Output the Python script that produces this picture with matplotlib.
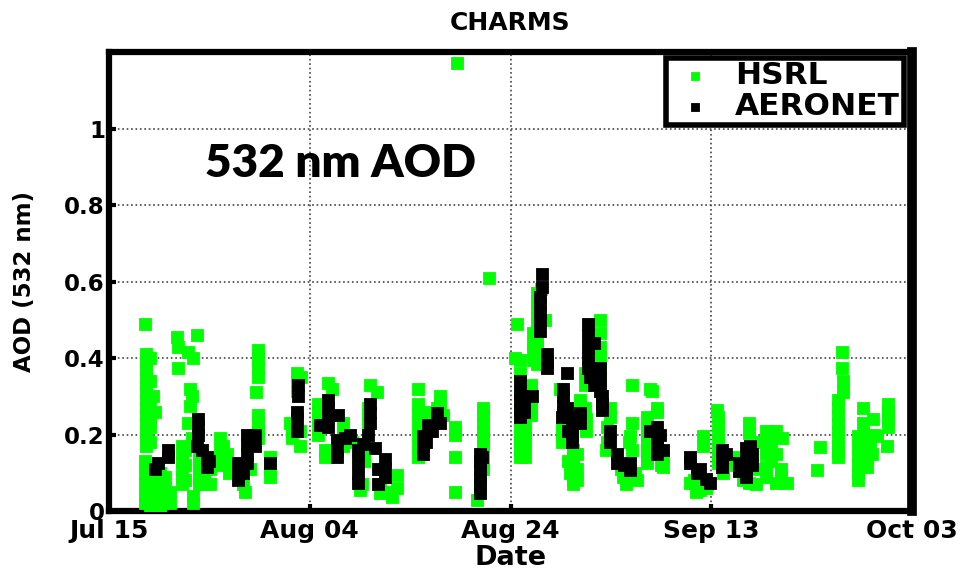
import matplotlib
matplotlib.use("Agg")
import matplotlib.pyplot as plt

# AOD retrievals at 532 nm, x = days since Jul 15
hsrl_points = [
    # Jul 18 - Jul 21
    (3.6, 0.49),
    (3.7, 0.41), (3.7, 0.39), (3.7, 0.37), (3.7, 0.35), (3.7, 0.33), (3.7, 0.31), (3.7, 0.29),
    (3.7, 0.27), (3.7, 0.25), (3.7, 0.23), (3.7, 0.21), (3.7, 0.19), (3.7, 0.17),
    (4.1, 0.40), (4.1, 0.34), (4.4, 0.30), (4.1, 0.28), (4.6, 0.26), (4.1, 0.24), (4.1, 0.22), (4.1, 0.18),
    (3.6, 0.13), (3.6, 0.10), (3.6, 0.07), (3.6, 0.04), (3.6, 0.02),
    (4.1, 0.12), (4.1, 0.09), (4.1, 0.06), (4.1, 0.03), (4.1, 0.01),
    (4.6, 0.08), (4.6, 0.05), (4.6, 0.02),
    (5.1, 0.10), (5.1, 0.07), (5.1, 0.04), (5.1, 0.01),
    (5.6, 0.09), (5.6, 0.06), (5.6, 0.03), (6.1, 0.05), (6.1, 0.02),
    # Jul 21 - Jul 27
    (6.8, 0.455), (6.9, 0.43), (8.8, 0.46), (7.9, 0.415), (8.4, 0.40), (6.9, 0.375),
    (8.1, 0.32), (8.3, 0.30), (8.1, 0.275), (7.9, 0.23), (8.3, 0.19),
    (7.3, 0.17), (7.3, 0.15), (7.3, 0.13), (7.3, 0.11), (7.3, 0.09), (7.3, 0.07),
    (7.6, 0.16), (7.6, 0.12), (7.6, 0.08), (8.4, 0.04), (8.4, 0.02),
    (9.0, 0.15), (9.0, 0.12), (9.0, 0.09), (9.0, 0.07), (9.5, 0.10), (9.5, 0.07),
    (10.1, 0.11), (10.1, 0.07), (11.1, 0.19), (11.1, 0.16), (11.1, 0.14), (11.1, 0.12),
    (11.4, 0.17), (11.8, 0.15), (11.9, 0.125), (12.0, 0.10),
    # Jul 27 - Aug 03
    (14.8, 0.42), (14.8, 0.40), (14.8, 0.375), (14.8, 0.35), (14.6, 0.31),
    (14.8, 0.25), (14.8, 0.23), (14.8, 0.21), (14.8, 0.19),
    (13.0, 0.09), (14.0, 0.11), (13.3, 0.07), (13.5, 0.05),
    (16.0, 0.14), (16.0, 0.11), (16.0, 0.09),
    (18.7, 0.36), (18.7, 0.34), (18.7, 0.315), (18.0, 0.23), (18.2, 0.21), (18.2, 0.19),
    (19.0, 0.21), (19.0, 0.17), (19.1, 0.35),
    # Aug 04 - Aug 13
    (21.8, 0.335), (22.2, 0.32),
    (20.8, 0.28), (20.8, 0.26), (20.8, 0.24), (20.8, 0.22), (20.8, 0.20),
    (21.5, 0.16), (21.5, 0.14), (23.3, 0.23), (23.3, 0.20), (23.3, 0.17),
    (24.2, 0.18), (25.4, 0.15), (25.4, 0.13), (25.0, 0.055), (25.2, 0.07),
    (26.0, 0.33), (26.7, 0.31), (25.8, 0.27), (25.8, 0.25), (25.8, 0.23),
    (27.0, 0.047), (27.0, 0.07), (27.5, 0.05), (28.2, 0.037), (28.7, 0.095), (28.7, 0.06),
    # Aug 14 - Aug 22
    (30.8, 0.32), (30.8, 0.28), (30.8, 0.255), (30.8, 0.23), (30.8, 0.20), (30.8, 0.17), (30.8, 0.14),
    (33.0, 0.30), (33.0, 0.28), (32.7, 0.27), (31.8, 0.26), (33.3, 0.25), (32.0, 0.21), (31.3, 0.17),
    (34.5, 0.22), (34.5, 0.20), (34.5, 0.14), (34.5, 0.05), (34.7, 1.17),
    (37.3, 0.27), (37.3, 0.25), (37.3, 0.23), (37.3, 0.21), (37.3, 0.19), (37.3, 0.17),
    (37.3, 0.15), (37.3, 0.13), (37.3, 0.11), (36.7, 0.03), (37.0, 0.055), (37.9, 0.61),
    # Aug 24 - Aug 28
    (40.6, 0.49), (40.4, 0.40), (40.9, 0.395),
    (40.9, 0.36), (40.9, 0.34), (40.9, 0.32), (40.9, 0.30), (40.9, 0.28), (40.9, 0.26),
    (40.9, 0.24), (40.9, 0.22), (40.9, 0.20), (40.9, 0.18), (40.9, 0.16), (40.9, 0.14),
    (41.4, 0.27), (41.4, 0.25), (41.4, 0.23), (41.4, 0.21), (41.4, 0.19), (41.4, 0.17), (41.4, 0.14),
    (42.0, 0.33), (42.0, 0.31), (42.0, 0.29), (42.0, 0.27), (42.0, 0.25),
    (42.2, 0.465), (42.2, 0.44), (42.2, 0.42), (42.2, 0.395),
    (42.6, 0.57), (42.6, 0.55), (42.6, 0.53), (42.6, 0.51), (42.6, 0.49), (42.6, 0.47),
    (42.6, 0.45), (42.6, 0.43), (42.6, 0.41), (42.6, 0.385), (43.4, 0.50), (43.0, 0.58),
    # Aug 29 - Sep 03
    (45.1, 0.22), (45.1, 0.20), (45.1, 0.18), (44.9, 0.32),
    (46.2, 0.16), (46.2, 0.14), (46.2, 0.12), (46.2, 0.10), (46.2, 0.08), (46.2, 0.07),
    (45.7, 0.13), (45.9, 0.10), (46.6, 0.15), (46.6, 0.11), (46.6, 0.08),
    (46.9, 0.29), (47.4, 0.27), (47.5, 0.24), (47.5, 0.21),
    (48.9, 0.50), (48.9, 0.465), (48.9, 0.43), (48.9, 0.40), (48.9, 0.37), (48.9, 0.34),
    (47.4, 0.36), (47.4, 0.33),
    (49.9, 0.27), (49.9, 0.245), (49.6, 0.22), (49.6, 0.18), (49.5, 0.16),
    # Sep 04 - Sep 10
    (52.1, 0.33), (53.9, 0.32), (52.1, 0.23), (51.9, 0.195), (51.8, 0.18), (52.1, 0.16),
    (51.2, 0.09), (52.6, 0.08), (51.0, 0.11), (51.5, 0.07), (51.6, 0.10), (52.4, 0.10),
    (54.6, 0.27), (54.1, 0.315), (54.6, 0.26),
    (53.6, 0.245), (53.6, 0.22), (53.6, 0.20), (53.6, 0.18), (53.6, 0.16), (53.6, 0.14), (53.6, 0.125),
    (55.2, 0.14), (55.2, 0.115), (55.0, 0.12),
    # Sep 12 - Sep 22
    (58.9, 0.055), (57.9, 0.073), (58.5, 0.05), (58.3, 0.08), (59.2, 0.195), (59.2, 0.17),
    (59.5, 0.06), (59.6, 0.07),
    (60.6, 0.265), (60.7, 0.245), (60.7, 0.225), (60.7, 0.205), (60.7, 0.185), (60.7, 0.165),
    (60.7, 0.145), (60.7, 0.125), (61.2, 0.10), (61.4, 0.13),
    (63.8, 0.23), (63.8, 0.205), (65.5, 0.21), (66.5, 0.21), (67.1, 0.19), (66.0, 0.20), (65.0, 0.18),
    (66.0, 0.17), (66.5, 0.15), (65.5, 0.15), (66.0, 0.13), (65.5, 0.115), (67.0, 0.11), (64.6, 0.11),
    (62.2, 0.14), (62.5, 0.12), (63.2, 0.08), (63.8, 0.073), (64.5, 0.07), (65.5, 0.09),
    (66.5, 0.073), (67.0, 0.09), (67.5, 0.073),
    # Sep 23 - Oct 02
    (70.8, 0.167), (70.5, 0.107),
    (73.0, 0.415), (73.0, 0.375), (73.1, 0.34), (73.1, 0.31),
    (72.6, 0.29), (72.6, 0.27), (72.6, 0.25), (72.6, 0.23), (72.6, 0.21), (72.6, 0.19),
    (72.6, 0.17), (72.6, 0.155), (72.6, 0.14),
    (75.1, 0.27), (75.1, 0.23), (76.1, 0.24), (75.2, 0.20), (76.2, 0.20), (76.5, 0.195),
    (74.6, 0.195), (74.6, 0.17), (74.6, 0.145), (74.6, 0.12), (74.6, 0.10), (74.6, 0.08),
    (75.5, 0.167), (75.5, 0.14), (75.5, 0.115), (75.8, 0.18), (76.0, 0.15),
    (77.6, 0.28), (77.6, 0.26), (77.6, 0.24), (77.6, 0.22), (77.5, 0.17),
]

aeronet_points = [
    (4.9, 0.125), (4.6, 0.11), (5.9, 0.16), (5.9, 0.14),
    (8.9, 0.24), (8.9, 0.22), (8.9, 0.20), (8.8, 0.17), (9.3, 0.16), (9.8, 0.14), (10.0, 0.13), (9.8, 0.115),
    (12.8, 0.125), (12.8, 0.10), (12.8, 0.08), (13.3, 0.10),
    (13.7, 0.20), (13.7, 0.175), (13.7, 0.15), (13.7, 0.125), (14.5, 0.20), (14.5, 0.17), (16.0, 0.125),
    (18.8, 0.33), (18.8, 0.30), (18.7, 0.26), (18.7, 0.24), (18.7, 0.21),
    (21.8, 0.29), (21.8, 0.27), (21.8, 0.25), (21.8, 0.22), (21.0, 0.225), (22.8, 0.25),
    (22.7, 0.185), (22.7, 0.16), (22.7, 0.14), (23.5, 0.19), (24.0, 0.20), (25.3, 0.175),
    (24.8, 0.16), (24.8, 0.13), (24.8, 0.10), (24.8, 0.073),
    (26.0, 0.28), (26.0, 0.255), (26.0, 0.23), (25.8, 0.20), (26.5, 0.165),
    (27.5, 0.135), (27.5, 0.11), (27.5, 0.09), (26.8, 0.11), (26.8, 0.07),
    (31.3, 0.195), (31.3, 0.17), (31.3, 0.15), (31.6, 0.18), (31.8, 0.225), (32.2, 0.21),
    (32.7, 0.255), (33.0, 0.23),
    (37.0, 0.15), (37.2, 0.14), (37.0, 0.13), (37.0, 0.11), (37.0, 0.09), (37.0, 0.07), (37.0, 0.047),
    (40.9, 0.34), (40.9, 0.31), (40.9, 0.29), (40.9, 0.265), (40.9, 0.245), (41.3, 0.28), (41.3, 0.26),
    (42.1, 0.30), (43.1, 0.62), (43.1, 0.585), (42.9, 0.56), (42.9, 0.54), (42.9, 0.52),
    (42.9, 0.50), (42.9, 0.47), (43.6, 0.41), (43.6, 0.39), (43.6, 0.375),
    (45.6, 0.36), (45.2, 0.32), (45.2, 0.30), (45.2, 0.275), (45.6, 0.27), (45.2, 0.255), (45.1, 0.245),
    (45.7, 0.21), (46.1, 0.245), (46.1, 0.22), (46.1, 0.20), (46.1, 0.18), (46.9, 0.255), (46.9, 0.23),
    (47.7, 0.49), (47.7, 0.46), (47.7, 0.43), (47.7, 0.40), (47.7, 0.375), (47.9, 0.35),
    (48.3, 0.44), (48.3, 0.33), (48.9, 0.375), (48.9, 0.345), (48.9, 0.315),
    (49.1, 0.30), (49.1, 0.28), (49.1, 0.265),
    (49.9, 0.21), (49.9, 0.18), (50.6, 0.15), (50.6, 0.125), (51.3, 0.12), (51.9, 0.125), (51.9, 0.107),
    (53.9, 0.21), (54.6, 0.22), (54.9, 0.20), (54.6, 0.19), (54.6, 0.17), (54.6, 0.15), (55.2, 0.16),
    (57.9, 0.14), (57.9, 0.125), (58.6, 0.10), (58.9, 0.11), (59.5, 0.085), (59.9, 0.073),
    (61.1, 0.16), (61.5, 0.15), (61.1, 0.14), (61.1, 0.115),
    (63.9, 0.17), (63.5, 0.165), (63.5, 0.14), (63.5, 0.115), (63.5, 0.09), (62.8, 0.125),
    (62.8, 0.105), (64.1, 0.15), (64.1, 0.12),
]

tick_days = [0, 20, 40, 60, 80]
tick_labels = ["Jul 15", "Aug 04", "Aug 24", "Sep 13", "Oct 03"]
aod_ticks = [0, 0.2, 0.4, 0.6, 0.8, 1]
aod_labels = ["0", "0.2", "0.4", "0.6", "0.8", "1"]

plt.rcParams["font.family"] = "DejaVu Sans"
plt.rcParams["font.weight"] = "bold"

fig = plt.figure(figsize=(9.71, 5.69), dpi=100)
ax = fig.add_axes([0.1123, 0.1019, 0.8269, 0.8067])

hx, hy = zip(*hsrl_points)
bx, by = zip(*aeronet_points)
ax.scatter(hx, hy, marker="s", s=66, color="#00ff00", edgecolors="#00ff00", linewidths=0.6,
           label="HSRL", zorder=3)
ax.scatter(bx, by, marker="s", s=66, color="black", edgecolors="black", linewidths=0.6,
           label="AERONET", zorder=4)

ax.set_xlim(0, 80)
ax.set_ylim(0, 1.2)
ax.set_xticks(tick_days)
ax.set_xticklabels(tick_labels)
ax.set_yticks(aod_ticks)
ax.set_yticklabels(aod_labels)
ax.tick_params(direction="in", length=5, width=3, labelsize=16.5, pad=3)
ax.tick_params(axis="x", labelsize=18, pad=6)
ax.grid(True, linestyle=":", color="#444444", linewidth=1.2)

for side in ["left", "bottom", "top"]:
    ax.spines[side].set_linewidth(4.5)
ax.spines["right"].set_linewidth(7)

ax.set_title("CHARMS", fontsize=18, fontweight="bold", pad=16)
ax.set_xlabel("Date", fontsize=19.5, fontweight="bold", labelpad=1)
ax.set_ylabel("AOD (532 nm)", fontsize=16.5, fontweight="bold", labelpad=20)

ax.text(0.12, 0.758, "532 nm AOD", transform=ax.transAxes, fontsize=33,
        fontweight="heavy", family="Lato", va="center", ha="left")

leg = ax.legend(loc="upper right", bbox_to_anchor=(0.99, 0.988), fontsize=22.5,
                frameon=True, fancybox=False, edgecolor="black", framealpha=1,
                markerscale=0.7, handletextpad=0.5, handlelength=1.6,
                borderpad=0.12, labelspacing=0.05, borderaxespad=0)
leg.get_frame().set_linewidth(4)

fig.savefig("out.png", dpi=100)
